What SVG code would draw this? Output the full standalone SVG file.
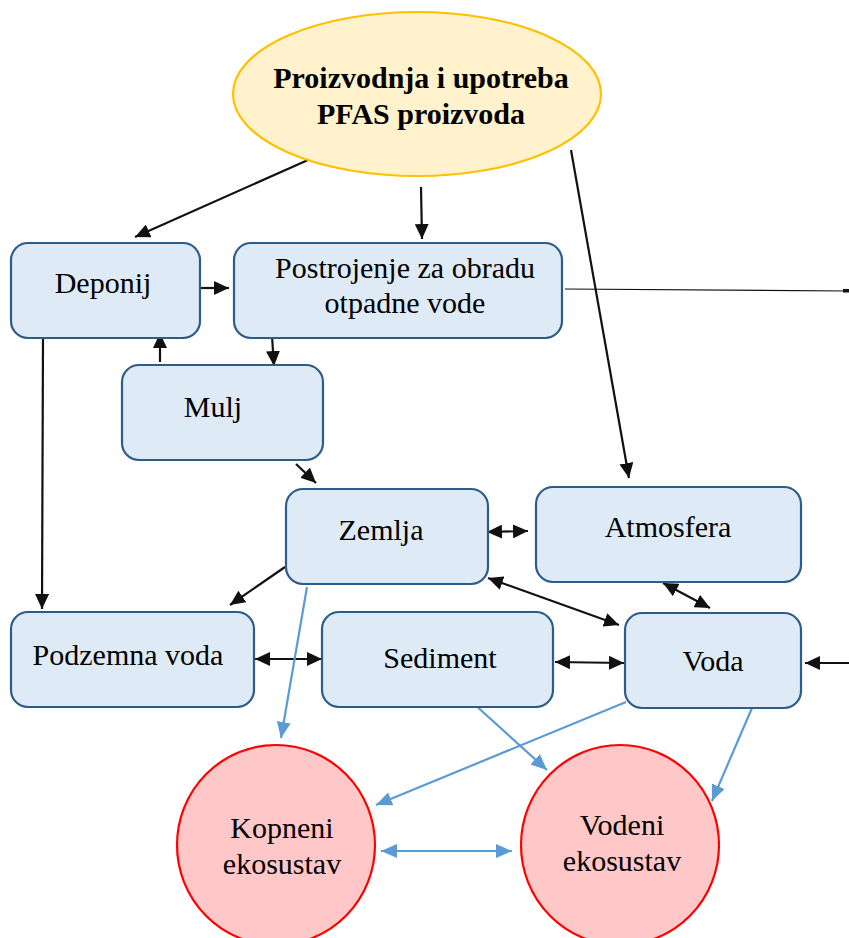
<svg xmlns="http://www.w3.org/2000/svg" width="849" height="938" viewBox="0 0 849 938">
<style>
  .box { fill: #DEEAF6; stroke: #2E5C8A; stroke-width: 2.2; }
  .eco { fill: #FFC7C7; stroke: #FF0000; stroke-width: 2.2; }
  .src { fill: #FFF2CC; stroke: #FFC000; stroke-width: 2.2; }
  .t { font-family: "Liberation Serif", "Times New Roman", serif; font-size: 30px; fill: #000; text-anchor: middle; }
  .tb { font-weight: bold; }
  .k { stroke: #111; stroke-width: 2.2; fill: none; }
  .kt { stroke: #111; stroke-width: 1.2; fill: none; }
  .b { stroke: #5B9BD5; stroke-width: 2.2; fill: none; }
</style>
<defs>
  <marker id="ak" markerUnits="userSpaceOnUse" markerWidth="16" markerHeight="14" refX="15" refY="7" orient="auto-start-reverse">
    <path d="M0,0 L15,7 L0,14 z" fill="#111"/>
  </marker>
  <marker id="ab" markerUnits="userSpaceOnUse" markerWidth="17" markerHeight="14" refX="16" refY="7" orient="auto-start-reverse">
    <path d="M0,0 L16,7 L0,14 z" fill="#5B9BD5"/>
  </marker>
</defs>
<rect width="849" height="938" fill="#fff"/>

<g id="connectors">
  <line class="k" x1="308" y1="160" x2="135" y2="237" marker-end="url(#ak)"/>
  <line class="k" x1="421" y1="187" x2="422" y2="239" marker-end="url(#ak)"/>
  <line class="k" x1="571" y1="150" x2="629" y2="478" marker-end="url(#ak)"/>
  <line class="k" x1="201" y1="288" x2="229" y2="288" marker-end="url(#ak)"/>
  <line class="k" x1="160" y1="362" x2="160" y2="333" marker-end="url(#ak)"/>
  <line class="k" x1="272" y1="336" x2="274" y2="366" marker-end="url(#ak)"/>
  <line class="k" x1="296" y1="464" x2="316" y2="483" marker-end="url(#ak)"/>
  <line class="k" x1="43" y1="338" x2="42" y2="609" marker-end="url(#ak)"/>
  <line class="k" x1="285" y1="567" x2="230" y2="605" marker-end="url(#ak)"/>
  <line class="k" x1="487" y1="532" x2="528" y2="531" marker-start="url(#ak)" marker-end="url(#ak)"/>
  <line class="k" x1="488" y1="578" x2="619" y2="625" marker-start="url(#ak)" marker-end="url(#ak)"/>
  <line class="k" x1="663" y1="583" x2="710" y2="608" marker-start="url(#ak)" marker-end="url(#ak)"/>
  <line class="k" x1="255" y1="659" x2="322" y2="659" marker-start="url(#ak)" marker-end="url(#ak)"/>
  <line class="k" x1="555" y1="662" x2="624" y2="663" marker-start="url(#ak)" marker-end="url(#ak)"/>
  <line class="k" x1="849" y1="663" x2="805" y2="663" marker-end="url(#ak)"/>
  <line class="kt" x1="565" y1="289" x2="849" y2="291"/>
  <rect x="843" y="289" width="6" height="3.5" fill="#111"/>
  <line class="b" x1="307" y1="587" x2="281" y2="738" marker-end="url(#ab)"/>
  <line class="b" x1="473" y1="703" x2="547" y2="770" marker-end="url(#ab)"/>
  <line class="b" x1="626" y1="702" x2="376" y2="805" marker-end="url(#ab)"/>
  <line class="b" x1="752" y1="708" x2="712" y2="801" marker-end="url(#ab)"/>
  <line class="b" x1="381" y1="851" x2="512" y2="851" marker-start="url(#ab)" marker-end="url(#ab)"/>
</g>

<g id="pfas">
  <ellipse class="src" cx="417" cy="94" rx="184" ry="82"/>
  <text class="t tb" x="421" y="88">Proizvodnja i upotreba</text>
  <text class="t tb" x="421" y="124">PFAS proizvoda</text>
</g>
<g id="deponij">
  <rect class="box" x="11" y="243" width="189" height="95" rx="17"/>
  <text class="t" x="103" y="293">Deponij</text>
</g>
<g id="postrojenje">
  <rect class="box" x="234" y="243" width="328" height="95" rx="17"/>
  <text class="t" x="405" y="278">Postrojenje za obradu</text>
  <text class="t" x="405" y="313">otpadne vode</text>
</g>
<g id="mulj">
  <rect class="box" x="122" y="365" width="201" height="95" rx="17"/>
  <text class="t" x="213" y="417">Mulj</text>
</g>
<g id="zemlja">
  <rect class="box" x="286" y="489" width="202" height="95" rx="17"/>
  <text class="t" x="381" y="540">Zemlja</text>
</g>
<g id="atmosfera">
  <rect class="box" x="536" y="487" width="265" height="95" rx="17"/>
  <text class="t" x="668" y="537">Atmosfera</text>
</g>
<g id="podzemna">
  <rect class="box" x="11" y="612" width="243" height="95" rx="17"/>
  <text class="t" x="128" y="665">Podzemna voda</text>
</g>
<g id="sediment">
  <rect class="box" x="322" y="612" width="231" height="95" rx="17"/>
  <text class="t" x="440" y="668">Sediment</text>
</g>
<g id="voda">
  <rect class="box" x="625" y="613" width="176" height="95" rx="17"/>
  <text class="t" x="713" y="671">Voda</text>
</g>
<g id="kopneni">
  <ellipse class="eco" cx="276" cy="845" rx="99" ry="100"/>
  <text class="t" x="282" y="838">Kopneni</text>
  <text class="t" x="282" y="874">ekosustav</text>
</g>
<g id="vodeni">
  <ellipse class="eco" cx="620" cy="845" rx="99" ry="100"/>
  <text class="t" x="622" y="835">Vodeni</text>
  <text class="t" x="622" y="871">ekosustav</text>
</g>
</svg>
